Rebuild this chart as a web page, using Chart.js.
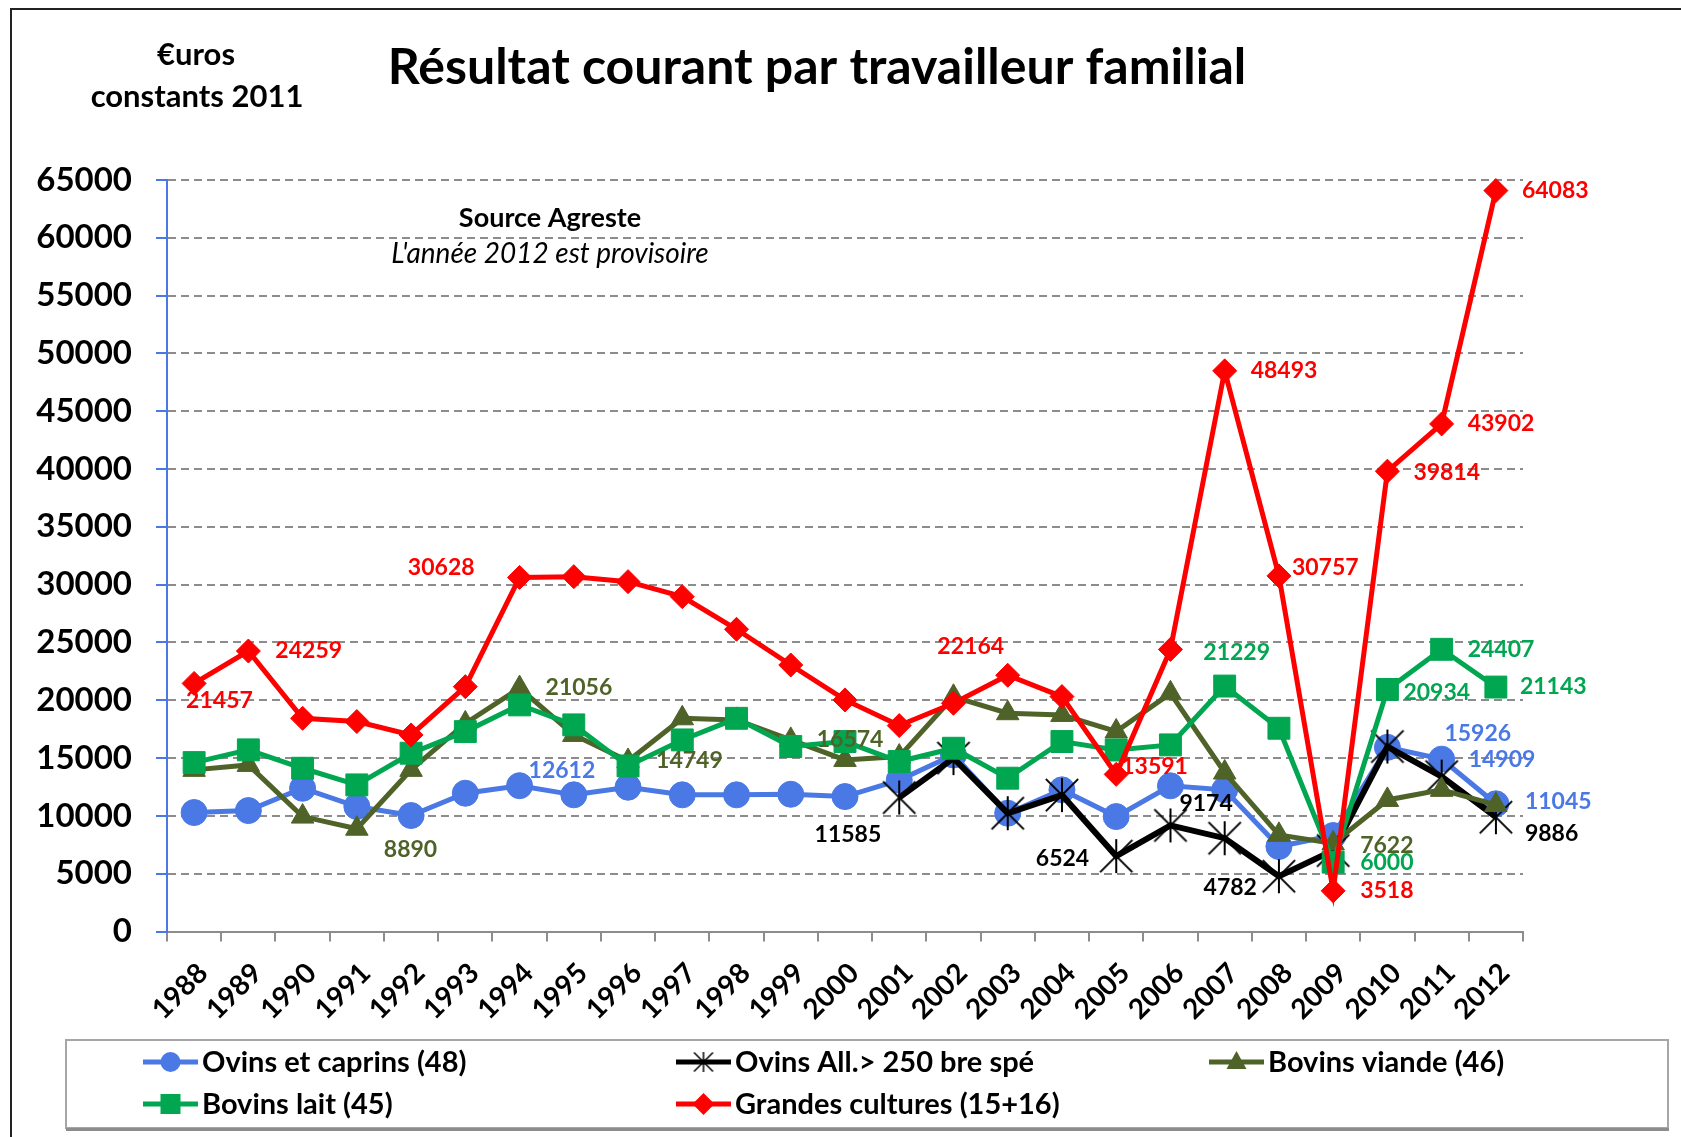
<!DOCTYPE html>
<html>
<head>
<meta charset="utf-8">
<script src="https://cdn.jsdelivr.net/npm/chart.js@4.4.1/dist/chart.umd.min.js"></script>
<style>
  body { margin: 0; background: #fff; }
  #wrap { width: 1681px; height: 1137px; }
</style>
</head>
<body>
<div id="wrap"><canvas id="chart" width="1681" height="1137"></canvas></div>
<script>
// data (euros constants 2011)
const years = ['1988','1989','1990','1991','1992','1993','1994','1995','1996','1997','1998','1999',
  '2000','2001','2002','2003','2004','2005','2006','2007','2008','2009','2010','2011','2012'];
const ovinsCaprins = [10290, 10460, 12390, 10810, 10030, 11960, 12612, 11820, 12480, 11820, 11820, 11870,
  11670, 13100, 15270, 10230, 12250, 9940, 12600, 12250, 7350, 8300, 15926, 14909, 11045];
const ovinsAll = [null, null, null, null, null, null, null, null, null, null, null, null,
  null, 11585, 15000, 10230, 11800, 6524, 9174, 8070, 4782, 7000, 16000, 13400, 9886];
const bovinsViande = [13980, 14410, 9940, 8890, 13980, 18000, 21056, 17000, 14749, 18440, 18300, 16574,
  14840, 15130, 20300, 18880, 18730, 17300, 20600, 13750, 8360, 7622, 11380, 12250, 10950];
const bovinsLait = [14610, 15710, 14120, 12680, 15420, 17290, 19600, 17870, 14320, 16570, 18440, 16000,
  16430, 14700, 15850, 13260, 16430, 15700, 16140, 21229, 17580, 6000, 20934, 24407, 21143];
const grandesCultures = [21457, 24259, 18440, 18160, 17000, 21180, 30628, 30690, 30260, 28960, 26140, 23050,
  20030, 17810, 19740, 22164, 20320, 13591, 24400, 48493, 30757, 3518, 39814, 43902, 64083];
const yMin = 0, yMax = 65000, yStep = 5000;

// which points get a value label: series, year index, align, dx, dy
const valueLabels = [
  ['gc', 0, 'left', -8, 17], ['gc', 1, 'left', 27, 0], ['gc', 6, 'right', -45, -10],
  ['bv', 6, 'left', 26, 0], ['bv', 3, 'left', 27, 21], ['oc', 6, 'left', 9, -15],
  ['bv', 8, 'left', 28, 0], ['bv', 11, 'left', 26, 0], ['oa', 13, 'right', -18, 37],
  ['gc', 15, 'center', -37, -29], ['gc', 17, 'left', 5, -8], ['oa', 17, 'right', -27, 3],
  ['oa', 18, 'left', 9, -22], ['bl', 19, 'center', 12, -33], ['gc', 19, 'left', 26, 0],
  ['oa', 20, 'right', -22, 11], ['gc', 20, 'left', 13, -8], ['bv', 21, 'left', 27, 2],
  ['bl', 21, 'left', 27, 0], ['gc', 21, 'left', 27, 0], ['gc', 22, 'left', 26, 1],
  ['bl', 22, 'left', 16, 3], ['oc', 22, 'left', 57, -14], ['gc', 23, 'left', 26, 0],
  ['bl', 23, 'left', 26, 0], ['oc', 23, 'left', 27, 0], ['gc', 24, 'left', 26, 0],
  ['bl', 24, 'left', 24, 0], ['oc', 24, 'left', 29, -2], ['oa', 24, 'left', 29, 16]
];

const FONT = 'Lato, "Open Sans", sans-serif';
const BLUE = '#4a78e4', GREEN = '#00a650', OLIVE = '#4f6228', RED = '#ff0000';

// excel-like asterisk marker
function makeStar(size, lw) {
  const c = document.createElement('canvas');
  c.width = size; c.height = size;
  const g = c.getContext('2d');
  const m = size / 2, r = size / 2 - 1;
  g.strokeStyle = '#000';
  g.lineWidth = lw;
  g.beginPath();
  g.moveTo(m, m - r); g.lineTo(m, m + r);
  g.moveTo(m - r * 0.95, m - r * 0.95); g.lineTo(m + r * 0.95, m + r * 0.95);
  g.moveTo(m + r * 0.95, m - r * 0.95); g.lineTo(m - r * 0.95, m + r * 0.95);
  g.stroke();
  return c;
}
const star = makeStar(36, 2);
const starSmall = makeStar(22, 1.5);

const datasets = [
  { key: 'oc', label: 'Ovins et caprins (48)', data: ovinsCaprins, borderColor: BLUE, backgroundColor: BLUE,
    pointStyle: 'circle', pointRadius: 13, borderWidth: 5, order: 5 },
  { key: 'oa', label: 'Ovins All.> 250 bre spé', data: ovinsAll, borderColor: '#000', backgroundColor: '#000',
    pointStyle: star, pointRadius: 17, borderWidth: 6, order: 4 },
  { key: 'bv', label: 'Bovins viande (46)', data: bovinsViande, borderColor: OLIVE, backgroundColor: OLIVE,
    pointStyle: 'triangle', pointRadius: 13, borderWidth: 5, order: 3 },
  { key: 'bl', label: 'Bovins lait (45)', data: bovinsLait, borderColor: GREEN, backgroundColor: GREEN,
    pointStyle: 'rect', pointRadius: 15.5, borderWidth: 5, order: 2 },
  { key: 'gc', label: 'Grandes cultures (15+16)', data: grandesCultures, borderColor: RED, backgroundColor: RED,
    pointStyle: 'rectRot', pointRadius: 12, borderWidth: 5, order: 1 }
];
datasets.forEach(d => {
  d.pointBackgroundColor = d.borderColor;
  d.pointBorderColor = d.borderColor;
  d.pointBorderWidth = 1;
  d.tension = 0;
  d.fill = false;
  d.clip = false;
  d.spanGaps = false;
});

// legend layout: dataset index, x of the line start, y centre
const legendItems = [[0, 143, 1062], [1, 676, 1062], [2, 1209, 1062], [3, 143, 1104], [4, 676, 1104]];

function legendMarker(ctx, ds, x, y) {
  ctx.fillStyle = ds.borderColor;
  ctx.beginPath();
  if (ds.pointStyle === 'circle') {
    ctx.arc(x, y, 10, 0, Math.PI * 2);
  } else if (ds.pointStyle === 'rect') {
    ctx.rect(x - 10, y - 10, 20, 20);
  } else if (ds.pointStyle === 'triangle') {
    ctx.moveTo(x, y - 11); ctx.lineTo(x + 10, y + 7); ctx.lineTo(x - 10, y + 7); ctx.closePath();
  } else if (ds.pointStyle === 'rectRot') {
    ctx.moveTo(x, y - 11); ctx.lineTo(x + 11, y); ctx.lineTo(x, y + 11); ctx.lineTo(x - 11, y); ctx.closePath();
  } else {
    ctx.drawImage(starSmall, x - 11, y - 11);
    return;
  }
  ctx.fill();
}

const decorPlugin = {
  id: 'decor',
  beforeDraw(chart) {
    const ctx = chart.ctx;
    ctx.save();
    ctx.fillStyle = '#fff';
    ctx.fillRect(0, 0, chart.width, chart.height);
    ctx.strokeStyle = '#222';
    ctx.lineWidth = 2;
    ctx.strokeRect(11, 9, 1720, 1200);
    ctx.restore();
  },
  afterDatasetsDraw(chart) {
    const ctx = chart.ctx;
    ctx.save();
    ctx.font = 'bold 23px ' + FONT;
    ctx.textBaseline = 'middle';
    valueLabels.forEach(([key, i, align, dx, dy]) => {
      const di = datasets.findIndex(d => d.key === key);
      const pt = chart.getDatasetMeta(di).data[i];
      const v = datasets[di].data[i];
      ctx.fillStyle = datasets[di].borderColor;
      ctx.textAlign = align;
      ctx.fillText(String(v), pt.x + dx, pt.y + dy);
    });
    ctx.restore();
  },
  afterDraw(chart) {
    const ctx = chart.ctx;
    ctx.save();
    ctx.fillStyle = '#000';
    ctx.textBaseline = 'alphabetic';
    ctx.textAlign = 'center';

    // title, sized to the width it has in the original
    const title = 'Résultat courant par travailleur familial';
    ctx.font = 'bold 100px ' + FONT;
    const ts = Math.min(50, 100 * 869 / ctx.measureText(title).width);
    ctx.font = 'bold ' + ts.toFixed(1) + 'px ' + FONT;
    ctx.fillText(title, 817, 84);

    ctx.font = 'bold 31px ' + FONT;
    ctx.fillText('€uros', 196, 65);
    ctx.fillText('constants 2011', 197, 107);

    ctx.font = 'bold 27px ' + FONT;
    ctx.fillText('Source Agreste', 550, 227);
    ctx.font = 'italic 28px ' + FONT;
    ctx.fillText("L'année 2012 est provisoire", 550, 263);

    // legend box
    ctx.strokeStyle = '#a6a6a6';
    ctx.lineWidth = 2;
    ctx.strokeRect(66, 1040, 1602, 88);
    ctx.strokeStyle = '#8c8c8c';
    ctx.lineWidth = 3;
    ctx.beginPath();
    ctx.moveTo(66, 1129.5); ctx.lineTo(1669, 1129.5);
    ctx.stroke();

    ctx.textAlign = 'left';
    ctx.textBaseline = 'middle';
    legendItems.forEach(([di, x, y]) => {
      const ds = datasets[di];
      ctx.strokeStyle = ds.borderColor;
      ctx.lineWidth = 5;
      ctx.beginPath();
      ctx.moveTo(x, y); ctx.lineTo(x + 55, y);
      ctx.stroke();
      legendMarker(ctx, ds, x + 27.5, y);
      ctx.fillStyle = '#000';
      ctx.font = 'bold 29px ' + FONT;
      ctx.fillText(ds.label, x + 59, y + 1);
    });
    ctx.restore();
  }
};

new Chart(document.getElementById('chart'), {
  type: 'line',
  data: { labels: years, datasets: datasets },
  options: {
    responsive: false,
    animation: false,
    devicePixelRatio: 1,
    layout: { padding: { top: 180, right: 158, bottom: 0, left: 0 } },
    plugins: {
      legend: { display: false },
      title: { display: false },
      tooltip: { enabled: false }
    },
    scales: {
      x: {
        offset: true,
        afterFit: s => { s.height = 1137 - 931.5; },
        grid: { drawOnChartArea: false, color: '#8c8c8c', lineWidth: 2, tickLength: 10, offset: true },
        border: { color: '#8c8c8c', width: 2 },
        ticks: {
          autoSkip: false, maxRotation: 45, minRotation: 45, padding: 15, labelOffset: 9, color: '#000',
          font: { family: FONT, size: 28, weight: 'bold' }
        }
      },
      y: {
        min: yMin, max: yMax,
        afterFit: s => { s.width = 167; },
        grid: { color: '#8c8c8c', lineWidth: 2, tickColor: BLUE, tickLength: 11, tickWidth: 2, tickBorderDash: [] },
        border: { color: BLUE, width: 2, dash: [8, 5] },
        ticks: {
          stepSize: yStep, padding: 24, color: '#000',
          callback: v => String(v),
          font: { family: FONT, size: 33, weight: 'bold' }
        }
      }
    }
  },
  plugins: [decorPlugin]
});
</script>
</body>
</html>
